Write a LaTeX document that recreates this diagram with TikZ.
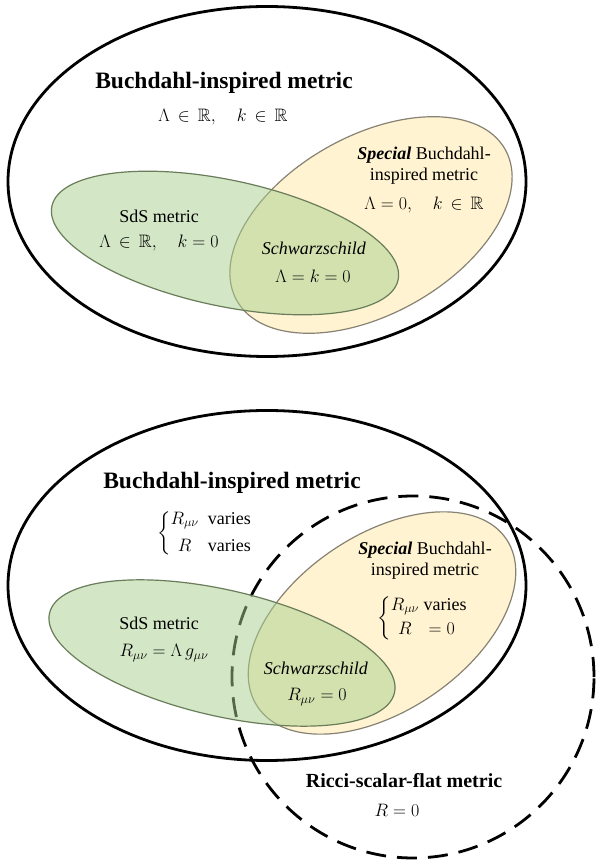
\documentclass[tikz,border=0pt]{standalone}
\usepackage{fix-cm}
\usepackage{amsmath}
\usepackage{amssymb}
\usepackage{fontspec}
\setmainfont{Liberation Serif}
\definecolor{verdeSdS}{RGB}{169,209,142}
\definecolor{bordaSdS}{RGB}{105,125,90}
\definecolor{amareloBI}{RGB}{255,230,153}
\definecolor{bordaBI}{RGB}{135,130,115}

\begin{document}
\begin{tikzpicture}[x=1pt,y=1pt, %Unidade em pontos
	conjunto/.style={draw, line width=2.8pt},
	ricci/.style={draw, line width=2.8pt, dash pattern=on 20pt off 11pt},
	sds/.style={draw=bordaSdS, fill=verdeSdS, fill opacity=0.5, line width=1.2pt},
	especial/.style={draw=bordaBI, fill=amareloBI, fill opacity=0.45, line width=1.2pt},
	texto/.style={font=\fontsize{18}{21}\selectfont, inner sep=0pt, align=center},
	titulo/.style={font=\fontsize{23.5}{28}\selectfont\bfseries, inner sep=0pt}]
					\path[fill=white] (0,0) rectangle (595,863); %Fundo e tamanho da figura
						%Primeiro diagrama
					\draw[conjunto] (267,681.5) ellipse [x radius=259pt, y radius=175pt]; %Conjunto Buchdahl
					\draw[especial, rotate around={29.4:(371,638)}] (371,638) ellipse [x radius=154pt, y radius=89pt]; %Buchdahl especial
					\draw[sds, rotate around={-12:(225,620)}] (225,620) ellipse [x radius=177pt, y radius=63pt]; %SdS
					\node[titulo] (tituloA) at (224,780) {Buchdahl-inspired metric};
					\node[texto] (condA) at (223,746) {$\Lambda\,\in\,\mathbb{R},\quad k\,\in\,\mathbb{R}$};
					\node[texto] (especialA) at (424,697) {\textbf{\textit{Special}}\ Buchdahl-\\inspired metric};
					\node[texto] (condEspA) at (424,658) {$\Lambda=0,\quad k\,\in\,\mathbb{R}$};
					\node[texto] (sdsA) at (159,647) {SdS metric};
					\node[texto] (condSdsA) at (159,620) {$\Lambda\,\in\,\mathbb{R},\quad k=0$};
					\node[texto] (schwA) at (314,615) {\textit{Schwarzschild}};
					\node[texto] (condSchwA) at (313,587) {$\Lambda=k=0$};
						%Segundo diagrama
					\draw[conjunto] (267,277.5) ellipse [x radius=259pt, y radius=175pt]; %Conjunto Buchdahl
					\draw[ricci] (413,186) circle [radius=181pt]; %Conjunto Ricci-escalar-plano
					\draw[especial, rotate around={34:(382,240)}] (382,240) ellipse [x radius=150pt, y radius=88pt]; %Buchdahl especial
					\draw[sds, rotate around={-13:(222,210)}] (222,210) ellipse [x radius=177pt, y radius=63pt]; %SdS
					\node[titulo] (tituloB) at (232,380) {Buchdahl-inspired metric};
					\node[texto] (varB) at (204,329.5) {$\biggl\{\begin{array}{@{}c@{\ \ }l@{}} R_{\mu\nu} & \text{varies}\\[6pt] R & \text{varies}\end{array}$};
					\node[texto] (especialB) at (425,302) {\textbf{\textit{Special}}\ Buchdahl-\\inspired metric};
					\node[texto] (varEspB) at (422,245) {$\biggl\{\begin{array}{@{}c@{\ }l@{}} R_{\mu\nu} & \text{varies}\\[3pt] R & {}=0\end{array}$};
					\node[texto] (sdsB) at (159,240) {SdS metric};
					\node[texto] (condSdsB) at (164,210) {$R_{\mu\nu}=\Lambda\, g_{\mu\nu}$};
					\node[texto] (schwB) at (316,195) {\textit{Schwarzschild}};
					\node[texto] (condSchwB) at (317,166) {$R_{\mu\nu}=0$};
					\node[titulo, font=\fontsize{20}{24}\selectfont\bfseries] (ricciB) at (404,82) {Ricci-scalar-flat metric};
					\node[texto] (condRicciB) at (397,53) {$R=0$};
				\end{tikzpicture}
\end{document}
